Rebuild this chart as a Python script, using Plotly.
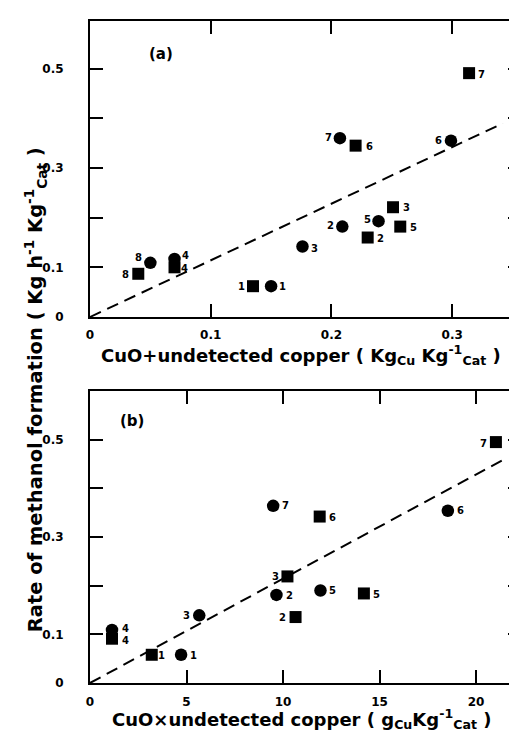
import plotly.graph_objects as go

# ---- data: panel (a) ----
pts_labels_a = ["1", "2", "3", "4", "5", "6", "7", "8"]
a_circ_x = [0.150, 0.209, 0.176, 0.070, 0.239, 0.299, 0.207, 0.050]
a_circ_y = [0.062, 0.182, 0.142, 0.117, 0.193, 0.355, 0.360, 0.109]
a_sq_x = [0.135, 0.230, 0.251, 0.070, 0.257, 0.220, 0.314, 0.040]
a_sq_y = [0.062, 0.160, 0.221, 0.100, 0.182, 0.345, 0.491, 0.087]
fit_a_x = [0.0, 0.342]
fit_a_y = [0.0, 0.390]

# ---- data: panel (b) ----
pts_labels_b = ["1", "2", "3", "4", "5", "6", "7"]
b_circ_x = [4.72, 9.66, 5.66, 1.14, 11.94, 18.54, 9.49]
b_circ_y = [0.058, 0.181, 0.139, 0.109, 0.190, 0.354, 0.364]
b_sq_x = [3.20, 10.65, 10.23, 1.14, 14.19, 11.90, 21.03]
b_sq_y = [0.058, 0.1355, 0.219, 0.091, 0.184, 0.342, 0.495]
fit_b_x = [0.0, 21.4]
fit_b_y = [0.0, 0.4585]

y_tickvals = [0, 0.1, 0.2, 0.3, 0.4, 0.5]
y_ticktext = ["0", "0.1", "", "0.3", "", "0.5"]
xa_tickvals = [0, 0.1, 0.2, 0.3]
xa_ticktext = ["0", "0.1", "0.2", "0.3"]
xb_tickvals = [0, 5, 10, 15, 20]
xb_ticktext = ["0", "5", "10", "15", "20"]

# label pixel offsets (style): (dx, dy) with dy positive = up
off_a_circ = [(11, 0), (-12, 1), (12, -2), (11, 3), (-11, 2), (-12, 0), (-11, 1), (-12, 5)]
off_a_sq = [(-11, 0), (13, -1), (13, 0), (10, -1), (13, -1), (14, -1), (12, -1), (-13, -1)]
off_b_circ = [(12, -1), (13, -1), (-13, 0), (13, 1), (12, 0), (13, 0), (12, 0)]
off_b_sq = [(10, -1), (-13, 0), (-12, 0), (13, -2), (13, -1), (13, -1), (-12, -1)]

FONT = "DejaVu Sans"
lab_font = dict(family=FONT, size=10, color="black", weight="bold")

fig = go.Figure()


def add_panel(cx, cy, sx, sy, labs, oc, osq, fx, fy, xa, ya):
    fig.add_trace(go.Scatter(x=fx, y=fy, mode="lines", xaxis=xa, yaxis=ya,
                             line=dict(color="black", width=2, dash="12px,7px"),
                             showlegend=False, hoverinfo="skip"))
    fig.add_trace(go.Scatter(x=cx, y=cy, mode="markers", xaxis=xa, yaxis=ya,
                             cliponaxis=False,
                             marker=dict(symbol="circle", size=12.5, color="black"),
                             showlegend=False))
    fig.add_trace(go.Scatter(x=sx, y=sy, mode="markers", xaxis=xa, yaxis=ya,
                             cliponaxis=False,
                             marker=dict(symbol="square", size=12, color="black"),
                             showlegend=False))
    for xs, ys, offs in ((cx, cy, oc), (sx, sy, osq)):
        for xv, yv, lab, (dx, dy) in zip(xs, ys, labs, offs):
            fig.add_annotation(x=xv, y=yv, xref=xa, yref=ya, text=lab,
                               showarrow=False, xshift=dx, yshift=dy,
                               xanchor="center", yanchor="middle", font=lab_font)


add_panel(a_circ_x, a_circ_y, a_sq_x, a_sq_y, pts_labels_a, off_a_circ, off_a_sq,
          fit_a_x, fit_a_y, "x", "y")
add_panel(b_circ_x, b_circ_y, b_sq_x, b_sq_y, pts_labels_b, off_b_circ, off_b_sq,
          fit_b_x, fit_b_y, "x2", "y2")

tick_font = dict(family=FONT, size=12, color="black", weight="bold")
axis_common = dict(showgrid=False, zeroline=False, showline=True, linecolor="black",
                   linewidth=2, mirror="ticks", ticks="inside", ticklen=13,
                   tickwidth=2, tickcolor="black", tickfont=tick_font)

fig.update_layout(
    width=517, height=732,
    margin=dict(l=82, r=2, t=13, b=57),
    plot_bgcolor="white", paper_bgcolor="white",
    xaxis=dict(domain=[0, 1], range=[0, 0.3570], anchor="y",
               tickvals=xa_tickvals, ticktext=xa_ticktext, ticklabelstandoff=6,
               **axis_common),
    yaxis=dict(domain=[0.5529, 1.0], range=[0, 0.596], anchor="x",
               tickvals=y_tickvals, ticktext=y_ticktext, ticklabelstandoff=22,
               **axis_common),
    xaxis2=dict(domain=[0, 1], range=[0, 22.33], anchor="y2",
                tickvals=xb_tickvals, ticktext=xb_ticktext, ticklabelstandoff=7,
                **axis_common),
    yaxis2=dict(domain=[0, 0.4411], range=[0, 0.6], anchor="x2",
                tickvals=y_tickvals, ticktext=y_ticktext, ticklabelstandoff=22,
                **axis_common),
)

panel_font = dict(family=FONT, size=15, color="black", weight="bold")
title_font = dict(family=FONT, size=18, color="black", weight="bold")
fig.add_annotation(text="(a)", xref="x", yref="y", x=0.0585, y=0.530, showarrow=False,
                   font=panel_font)
fig.add_annotation(text="(b)", xref="x2", yref="y2", x=2.17, y=0.538, showarrow=False,
                   font=panel_font)
fig.add_annotation(text="CuO+undetected copper ( Kg<sub>Cu</sub> Kg<sup>-1</sup><sub>Cat</sub> )",
                   xref="paper", yref="paper", x=0.49, y=(675 - 347) / 662,
                   showarrow=False, font=title_font, xanchor="center", yanchor="middle")
fig.add_annotation(text="CuO×undetected copper ( g<sub>Cu</sub>Kg<sup>-1</sup><sub>Cat</sub> )",
                   xref="paper", yref="paper", x=0.49, y=(675 - 711) / 662,
                   showarrow=False, font=title_font, xanchor="center", yanchor="middle")
fig.add_annotation(text="Rate of methanol formation ( Kg h<sup>-1</sup> Kg<sup>-1</sup><sub>Cat</sub> )",
                   xref="paper", yref="paper", x=(27 - 82) / 433, y=(675 - 382) / 662,
                   textangle=-90, showarrow=False,
                   font=dict(family=FONT, size=19.5, color="black", weight="bold"),
                   xanchor="center", yanchor="middle")

fig.write_html("out.html")
